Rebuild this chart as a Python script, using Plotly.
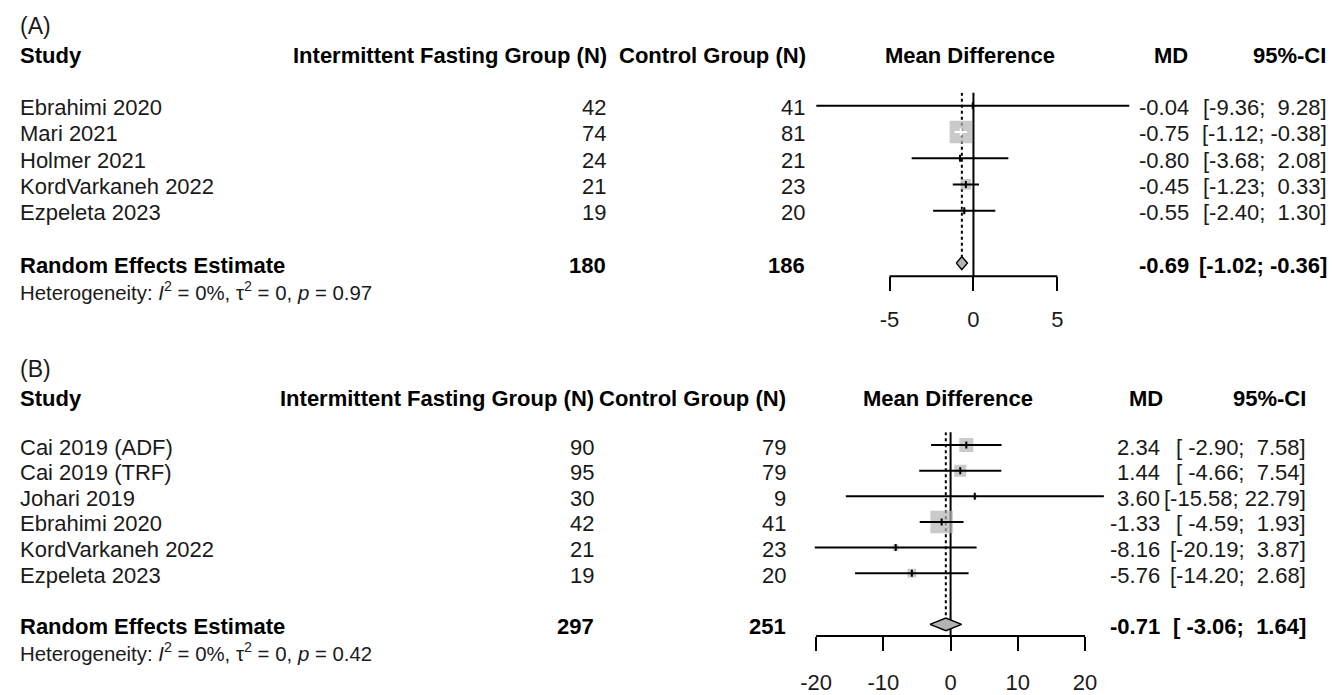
import plotly.graph_objects as go

W, H = 1332, 695
FONT = "Liberation Sans, Arial, sans-serif"
FS = 22
TXT = "#1a1a1a"
SQ_COLOR = "#b3b3b3"

# ---------------- Panel A data ----------------
a_studies = ["Ebrahimi 2020", "Mari 2021", "Holmer 2021", "KordVarkaneh 2022", "Ezpeleta 2023"]
a_n_if = [42, 74, 24, 21, 19]
a_n_ctrl = [41, 81, 21, 23, 20]
a_md = [-0.04, -0.75, -0.80, -0.45, -0.55]
a_lo = [-9.36, -1.12, -3.68, -1.23, -2.40]
a_hi = [9.28, -0.38, 2.08, 0.33, 1.30]
a_weight = [0.1, 78.0, 1.3, 17.5, 3.1]
a_pool = [-0.69, -1.02, -0.36]
a_total = [180, 186]
a_het = "Heterogeneity: <i>I</i><sup>2</sup> = 0%, τ<sup>2</sup> = 0, <i>p</i> = 0.97"
a_ticks = [-5, 0, 5]

# ---------------- Panel B data ----------------
b_studies = ["Cai 2019 (ADF)", "Cai 2019 (TRF)", "Johari 2019", "Ebrahimi 2020",
             "KordVarkaneh 2022", "Ezpeleta 2023"]
b_n_if = [90, 95, 30, 42, 21, 19]
b_n_ctrl = [79, 79, 9, 41, 23, 20]
b_md = [2.34, 1.44, 3.60, -1.33, -8.16, -5.76]
b_lo = [-2.90, -4.66, -15.58, -4.59, -20.19, -14.20]
b_hi = [7.58, 7.54, 22.79, 1.93, 3.87, 2.68]
b_weight = [20.2, 14.9, 1.5, 52.0, 3.8, 7.8]
b_pool = [-0.71, -3.06, 1.64]
b_total = [297, 251]
b_het = "Heterogeneity: <i>I</i><sup>2</sup> = 0%, τ<sup>2</sup> = 0, <i>p</i> = 0.42"
b_ticks = [-20, -10, 0, 10, 20]

NB = "\u00a0"


def fmt_col(vals):
    s = [f"{v:.2f}" for v in vals]
    w = max(len(x) for x in s)
    return [NB * (w - len(x)) + x for x in s]


def ci_labels(lo, hi):
    ls = fmt_col(lo)
    hs = fmt_col(hi)
    return [f"[{l};{NB}{h}]" for l, h in zip(ls, hs)]


fig = go.Figure()
annotations = []
shapes = []


def panel(idx, studies, n_if, n_ctrl, md, lo, hi, weight, pool, total, het, ticks,
          xrange, xdom, ydom, yrange, pool_row, cols, label, label_row, head_row, max_sq,
          standoff):
    xa = "x" if idx == 1 else f"x{idx}"
    ya = "y" if idx == 1 else f"y{idx}"
    xkey = "xaxis" if idx == 1 else f"xaxis{idx}"
    ykey = "yaxis" if idx == 1 else f"yaxis{idx}"
    rows = list(range(len(studies)))
    px_per_unit = (xdom[1] - xdom[0]) * W / (xrange[1] - xrange[0])
    wmax = max(weight)
    sizes = [max_sq * (w / wmax) ** 0.5 for w in weight]
    inside = [(h - l) * px_per_unit < s for l, h, s in zip(lo, hi, sizes)]

    # weighted squares
    fig.add_trace(go.Scatter(x=md, y=rows, mode="markers", xaxis=xa, yaxis=ya,
                             marker=dict(symbol="square", size=sizes, color=SQ_COLOR,
                                         line=dict(width=0)),
                             hoverinfo="skip", showlegend=False))
    # confidence-interval lines (white when fully inside the square)
    for color, flag in (("black", False), ("white", True)):
        xs, ys = [], []
        for r, l, h, f in zip(rows, lo, hi, inside):
            if f == flag:
                xs += [l, h, None]
                ys += [r, r, None]
        if xs:
            fig.add_trace(go.Scatter(x=xs, y=ys, mode="lines", xaxis=xa, yaxis=ya,
                                     line=dict(color=color, width=2),
                                     hoverinfo="skip", showlegend=False))
    # point-estimate ticks
    fig.add_trace(go.Scatter(x=md, y=rows, mode="markers", xaxis=xa, yaxis=ya,
                             marker=dict(symbol="line-ns", size=5,
                                         line=dict(width=2,
                                                   color=["white" if f else "black" for f in inside])),
                             hoverinfo="skip", showlegend=False))
    # pooled diamond
    dh = 0.25
    fig.add_trace(go.Scatter(x=[pool[1], pool[0], pool[2], pool[0], pool[1]],
                             y=[pool_row, pool_row - dh, pool_row, pool_row + dh, pool_row],
                             mode="lines", fill="toself", fillcolor=SQ_COLOR,
                             line=dict(color="black", width=1.5), xaxis=xa, yaxis=ya,
                             hoverinfo="skip", showlegend=False))

    # no-effect line, pooled-estimate dotted line, bracket axis line
    shapes.append(dict(type="line", xref=xa, yref=f"{ya} domain", x0=0, x1=0, y0=0, y1=1,
                       line=dict(color="black", width=2), layer="below"))
    shapes.append(dict(type="line", xref=xa, yref=ya, x0=pool[0], x1=pool[0],
                       y0=yrange[1], y1=pool_row - dh,
                       line=dict(color="black", width=2, dash="dot"), layer="below"))
    shapes.append(dict(type="line", xref=xa, yref=f"{ya} domain", x0=ticks[0], x1=ticks[-1],
                       y0=0, y1=0, line=dict(color="black", width=2), layer="below"))

    fig.update_layout(**{
        xkey: dict(domain=xdom, range=xrange, anchor=ya, showgrid=False, zeroline=False,
                   showline=False, ticks="outside", tickvals=ticks,
                   ticktext=[str(t) for t in ticks], ticklen=14, tickwidth=2,
                   tickcolor="black", tickfont=dict(family=FONT, size=FS, color=TXT),
                   ticklabelstandoff=standoff, fixedrange=True),
        ykey: dict(domain=ydom, range=yrange, anchor=xa, visible=False, fixedrange=True),
    })

    def row_to_paper(r):
        frac = (r - yrange[1]) / (yrange[0] - yrange[1])
        return ydom[1] - frac * (ydom[1] - ydom[0])

    def ann(text, x, r, anchor, bold=False, size=FS, shift=-2):
        annotations.append(dict(text=f"<b>{text}</b>" if bold else text,
                                x=x / W, y=row_to_paper(r), xref="paper", yref="paper",
                                xanchor=anchor, yanchor="middle", showarrow=False,
                                borderpad=0, yshift=shift,
                                font=dict(family=FONT, size=size,
                                          color="black" if bold else TXT)))

    c = cols
    ann(label, 10, label_row, "left", size=23)
    ann("Study", 10, head_row, "left", bold=True)
    ann("Intermittent Fasting Group (N)", c["if_h"], head_row, "right", bold=True)
    ann("Control Group (N)", c["ct_h"], head_row, "right", bold=True)
    ann("Mean Difference", c["md_h"], head_row, "center", bold=True)
    ann("MD", c["mdc_h"], head_row, "right", bold=True)
    ann("95%-CI", c["ci_h"], head_row, "right", bold=True)

    md_s = fmt_col(md + [pool[0]])
    ci_s = ci_labels(lo + [pool[1]], hi + [pool[2]])
    for r, s in enumerate(studies):
        ann(s, 10, r, "left")
        ann(str(n_if[r]), c["if"], r, "right")
        ann(str(n_ctrl[r]), c["ct"], r, "right")
        ann(md_s[r], c["mdc"], r, "right")
        ann(ci_s[r], c["ci"], r, "right")
    ann("Random Effects Estimate", 10, pool_row, "left", bold=True)
    ann(str(total[0]), c["if"], pool_row, "right", bold=True)
    ann(str(total[1]), c["ct"], pool_row, "right", bold=True)
    ann(md_s[-1], c["mdc"], pool_row, "right", bold=True)
    ann(ci_s[-1], c["ci"], pool_row, "right", bold=True)
    ann(het, 10, pool_row + 1, "left", size=20.4)


panel(1, a_studies, a_n_if, a_n_ctrl, a_md, a_lo, a_hi, a_weight, a_pool, a_total, a_het,
      a_ticks,
      xrange=[-10, 10], xdom=[802 / W, 1140 / W],
      ydom=[1 - 281.5 / H, 1 - 94.4 / H], yrange=[6.5, -0.5], pool_row=6,
      cols=dict(if_h=603, ct_h=803, md_h=968, mdc_h=1188, ci_h=1327,
                **{"if": 602, "ct": 802, "mdc": 1189, "ci": 1328}),
      label="(A)", label_row=-3.1, head_row=-2.0, max_sq=22.5, standoff=9)

panel(2, b_studies, b_n_if, b_n_ctrl, b_md, b_lo, b_hi, b_weight, b_pool, b_total, b_het,
      b_ticks,
      xrange=[-21, 23.5], xdom=[805.8 / W, 1107.1 / W],
      ydom=[1 - 648 / H, 1 - 440.5 / H], yrange=[7.45, -0.5], pool_row=7,
      cols=dict(if_h=590, ct_h=783, md_h=945, mdc_h=1163, ci_h=1307,
                **{"if": 590, "ct": 783, "mdc": 1160, "ci": 1307}),
      label="(B)", label_row=-3.05, head_row=-1.9, max_sq=22.5, standoff=13)

fig.update_layout(width=W, height=H, margin=dict(l=0, r=0, t=0, b=0),
                  paper_bgcolor="white", plot_bgcolor="white",
                  annotations=annotations, shapes=shapes, showlegend=False,
                  font=dict(family=FONT, size=FS, color=TXT))

# pin the figure to the page's top-left corner so the page is exactly the figure's size
js = """
var gd=document.getElementById('{plot_id}');
var wrap=gd.parentNode;
document.documentElement.style.margin='0';
document.documentElement.style.padding='0';
document.documentElement.style.overflow='hidden';
document.body.style.margin='0';
document.body.style.padding='0';
document.body.style.overflow='hidden';
wrap.style.position='fixed';wrap.style.left='0px';wrap.style.top='0px';
wrap.style.margin='0';wrap.style.padding='0';
"""
fig.write_html("out.html", config={"displayModeBar": False}, post_script=js)
